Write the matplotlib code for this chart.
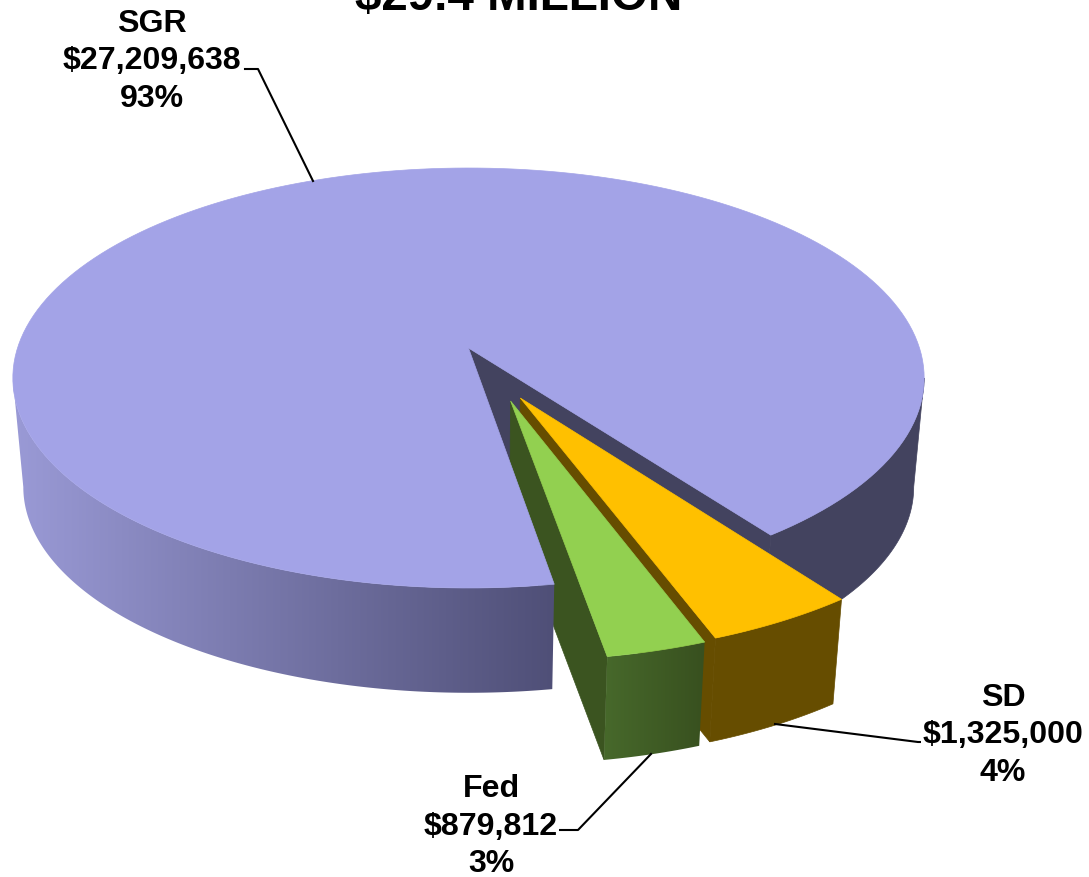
#!/usr/bin/env python3
# -*- coding: utf-8 -*-
import numpy as np
import matplotlib
matplotlib.use('Agg')
import matplotlib.pyplot as plt
from matplotlib.colors import LinearSegmentedColormap
from matplotlib.patches import Polygon

title = '$29.4 MILLION'
names = ['Fed', 'SD', 'SGR']
values = [879812, 1325000, 27209638]
percents = ['3%', '4%', '93%']

# view of the disc, in pixels of the output
cx, cy = 468.5, 348
A, B, k = 451.0, 205.7, 1/7
start = 9.4          # degrees from the front, going to the right
x_scale, y_scale = 0.977, 0.98
top_side_y, bottom_side_y = 378, 487

explode = {'Fed': (0.09, 0.2485), 'SD': (0.111, 0.235), 'SGR': (0, 0)}


def top(u, v):
    w = 1 - k*np.asarray(v)
    return cx + A*np.asarray(u)/w, cy + B*np.asarray(v)/w


def bottom(u, v):
    x, y = top(u, v)
    return cx + x_scale*(x - cx), bottom_side_y + y_scale*(y - top_side_y)


def arc(t0, t1, off, n=200):
    t = np.radians(np.linspace(t0, t1, n))
    return off[0] + np.sin(t), off[1] + np.cos(t)


def poly(xs, ys, color, z):
    p = Polygon(np.column_stack([xs, ys]), closed=True, fc=color, ec=color, lw=0.5, zorder=z)
    ax.add_patch(p)
    return p


def gradient(xs, ys, c0, c1, z):
    # horizontal shading clipped on the wall
    p = Polygon(np.column_stack([xs, ys]), closed=True, fc='none', ec='none', zorder=z)
    ax.add_patch(p)
    cmap = LinearSegmentedColormap.from_list('w', [c0, c1])
    x0, x1 = np.min(xs), np.max(xs)
    im = ax.imshow(np.linspace(0, 1, 256).reshape(1, -1), cmap=cmap, aspect='auto', zorder=z,
                   extent=[x0, x1, np.max(ys), np.min(ys)], interpolation='bilinear')
    im.set_clip_path(p)


def wall(t0, t1, off):
    u, v = arc(t0, t1, off)
    xt, yt = top(u, v)
    xb, yb = bottom(u, v)
    return np.r_[xt, xb[::-1]], np.r_[yt, yb[::-1]]


def cut(t, off):
    u, v = arc(t, t, off, 2)
    p = [off[0], u[0]], [off[1], v[0]]
    xt, yt = top(*p)
    xb, yb = bottom(*p)
    return np.r_[xt, xb[::-1]], np.r_[yt, yb[::-1]]


def face(t0, t1, off):
    u, v = arc(t0, t1, off)
    return top(np.r_[off[0], u], np.r_[off[1], v])


fig = plt.figure(figsize=(10.89, 8.77), dpi=100)
ax = fig.add_axes([0, 0, 1, 1])
plt.rcParams['font.family'] = ['Liberation Sans', 'DejaVu Sans']

sweep = 360*np.array(values)/sum(values)
fed0, fed1 = start, start + sweep[0]
sd0, sd1 = fed1, fed1 + sweep[1]
sgr0, sgr1 = sd1, sd1 + sweep[2]
side = np.degrees(np.arccos(k))

# SGR, the back walls first
off = explode['SGR']
poly(*wall(sgr0, side, off), '#43435f', 1)
poly(*cut(sgr0, off), '#43435f', 2)

# SD
off = explode['SD']
poly(*cut(sd0, off), '#664d00', 4)
poly(*wall(sd0, sd1, off), '#664d00', 4)
poly(*face(sd0, sd1, off), '#ffc000', 5)

# Fed
off = explode['Fed']
poly(*cut(fed0, off), '#3b5420', 6)
gradient(*wall(fed0, fed1, off), '#47692b', '#38501f', 6)
poly(*face(fed0, fed1, off), '#92d050', 7)

# SGR front wall and top go over the cut side of Fed
off = explode['SGR']
gradient(*wall(fed0, -side, off), '#9a9ad6', '#4f4f77', 8)
poly(*face(sgr0, sgr1, off), '#a3a3e7', 9)

# leader lines
ax.plot([245, 258, 313], [69, 69, 181], color='k', lw=1.5, zorder=10)
ax.plot([775, 918, 945], [724, 742, 742], color='k', lw=1.5, zorder=10)
ax.plot([651, 578, 558], [754, 830, 830], color='k', lw=1.5, zorder=10)

ax.text(519, 10.5, title, fontsize=34.3, fontweight='bold', ha='center', va='baseline')

label_x = {'SGR': 152, 'SD': 1003, 'Fed': 491}
label_y = {'SGR': 32, 'SD': 706, 'Fed': 797}
for name, val, pct in zip(names, values, percents):
    lines = [name, '${:,}'.format(val), pct]
    for i, s in enumerate(lines):
        ax.text(label_x[name], label_y[name] + i*37.5, s, fontsize=23.1, fontweight='bold',
                ha='center', va='baseline', zorder=11,
                bbox=dict(fc='white', ec='none', pad=1) if i == 1 else None)

ax.set_xlim(0, 1089)
ax.set_ylim(877, 0)
ax.axis('off')
plt.savefig('out.png', dpi=100)
